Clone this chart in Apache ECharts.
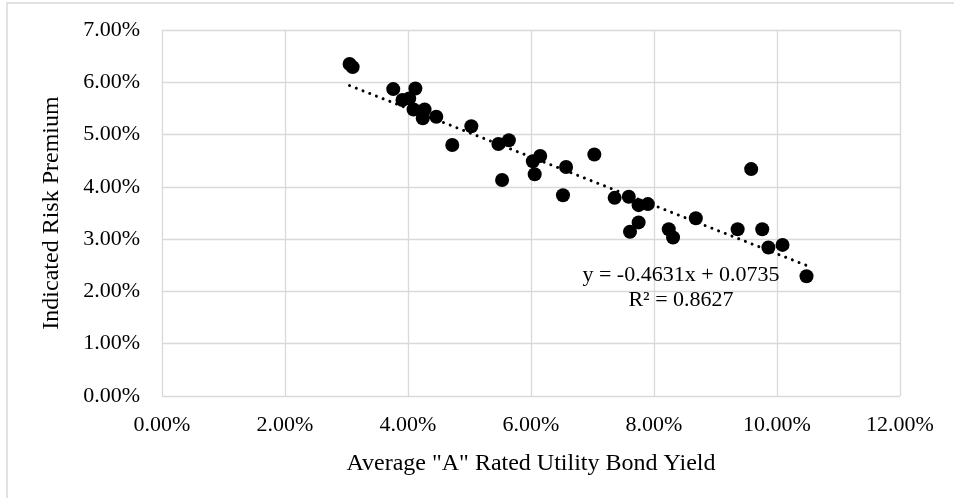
<!DOCTYPE html>
<html>
<head>
<meta charset="utf-8">
<script src="https://cdn.jsdelivr.net/npm/echarts@6/dist/echarts.min.js"></script>
<style>
  html, body { margin: 0; padding: 0; background: #fff; }
  #chart { width: 954px; height: 498px; }
</style>
</head>
<body>
<div id="chart"></div>
<script>
// Average "A" rated utility bond yield (fraction)
const bondYield = [
  0.0305, 0.0310, 0.0376, 0.0412, 0.0391, 0.0402, 0.0409, 0.0427, 0.0424,
  0.0446, 0.0503, 0.0472, 0.0547, 0.0564, 0.0603, 0.0615, 0.0606, 0.0553,
  0.0703, 0.0657, 0.0652, 0.0736, 0.0759, 0.0775, 0.0790, 0.0775, 0.0761,
  0.0824, 0.0831, 0.0868, 0.0958, 0.0936, 0.0976, 0.0986, 0.1009, 0.1048
];
// Indicated risk premium (fraction)
const riskPremium = [
  0.0635, 0.0629, 0.0587, 0.0588, 0.0566, 0.0569, 0.0548, 0.0548, 0.0531,
  0.0534, 0.0516, 0.0480, 0.0482, 0.0489, 0.0449, 0.0459, 0.0424, 0.0413,
  0.0462, 0.0438, 0.0384, 0.0379, 0.0381, 0.0365, 0.0367, 0.0332, 0.0314,
  0.0319, 0.0303, 0.0340, 0.0434, 0.0319, 0.0319, 0.0284, 0.0289, 0.0229
];
// Linear trend coefficients
const trendSlope = [-0.4631];
const trendIntercept = [0.0735];
const trendR2 = [0.8627];

const xTitle = 'Average "A" Rated Utility Bond Yield';
const yTitle = 'Indicated Risk Premium';

const pct = v => (v * 100).toFixed(2) + '%';
const FONT = '"Liberation Serif", "DejaVu Serif", serif';

const points = bondYield.map((x, i) => [x, riskPremium[i]]);
const xMin = Math.min.apply(null, bondYield);
const xMax = Math.max.apply(null, bondYield);
const trend = [xMin, xMax].map(x => [x, trendSlope[0] * x + trendIntercept[0]]);

const chart = echarts.init(document.getElementById('chart'), null, { renderer: 'canvas' });

chart.setOption({
  animation: false,
  backgroundColor: '#ffffff',
  grid: { left: 162, right: 54, top: 30, bottom: 102, containLabel: false },
  xAxis: {
    type: 'value', min: 0, max: 0.12, interval: 0.02,
    name: xTitle, nameLocation: 'middle', nameGap: 56,
    nameTextStyle: { fontFamily: FONT, fontSize: 24, color: '#000' },
    axisLine: { show: false },
    axisTick: { show: false },
    axisLabel: { formatter: pct, fontFamily: FONT, fontSize: 22, color: '#000', margin: 18 },
    splitLine: { show: true, lineStyle: { color: '#d9d9d9', width: 1.3 } }
  },
  yAxis: {
    type: 'value', min: 0, max: 0.07, interval: 0.01,
    name: yTitle, nameLocation: 'middle', nameGap: 98,
    nameTextStyle: { fontFamily: FONT, fontSize: 24, color: '#000' },
    axisLine: { show: false },
    axisTick: { show: false },
    axisLabel: { formatter: pct, fontFamily: FONT, fontSize: 22, color: '#000', margin: 22 },
    splitLine: { show: true, lineStyle: { color: '#d9d9d9', width: 1.3 } }
  },
  series: [
    {
      type: 'line',
      data: trend,
      symbol: 'none',
      silent: true,
      z: 1,
      lineStyle: { color: '#000', width: 3, opacity: 1, type: [0.01, 7.2], cap: 'round' }
    },
    {
      type: 'scatter',
      data: points,
      symbol: 'circle',
      symbolSize: 14,
      z: 2,
      itemStyle: { color: '#000', opacity: 1 }
    }
  ],
  graphic: [
    {
      type: 'rect',
      shape: { x: 7, y: 3, width: 1200, height: 1200 },
      style: { fill: 'none', stroke: '#d9d9d9', lineWidth: 1.5 },
      silent: true
    },
    {
      type: 'text',
      x: 681, y: 275,
      style: {
        text: 'y = ' + trendSlope[0].toFixed(4) + 'x + ' + trendIntercept[0].toFixed(4),
        font: '22px ' + FONT, fill: '#000', align: 'center', verticalAlign: 'middle'
      },
      z: 10
    },
    {
      type: 'text',
      x: 681, y: 300,
      style: {
        text: 'R\u00B2 = ' + trendR2[0].toFixed(4),
        font: '22px ' + FONT, fill: '#000', align: 'center', verticalAlign: 'middle'
      },
      z: 10
    }
  ]
});
</script>
</body>
</html>
